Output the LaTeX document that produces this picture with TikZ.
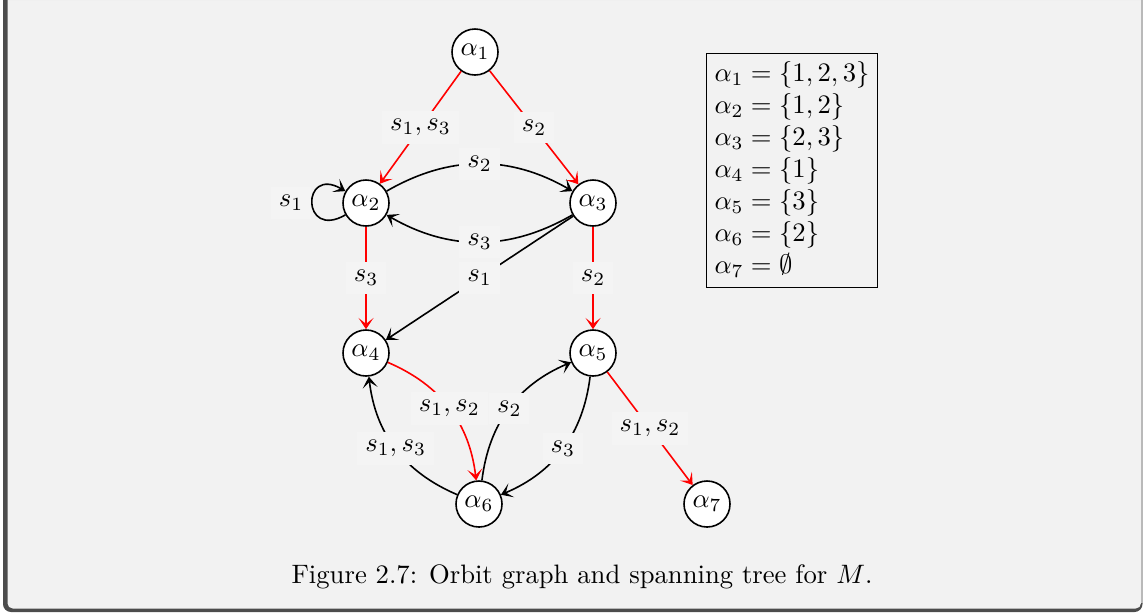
\documentclass[tikz,border=0pt]{standalone}
\usetikzlibrary{arrows.meta}
\definecolor{bgc}{gray}{0.949}
\definecolor{lblc}{gray}{0.957}
\definecolor{framec}{gray}{0.30}
\begin{document}
\begin{tikzpicture}[x=0.375pt,y=-0.375pt,
  state/.style={circle,draw,fill=white,semithick,minimum size=17.25pt,inner sep=0pt},
  edgelbl/.style={fill=lblc,text=black,inner sep=3pt},
  arr/.style={semithick,-{Stealth[length=4.2pt,width=5.6pt,inset=2.2pt]}},
  tree/.style={arr,red}]
\useasboundingbox (0,0) rectangle (1143,613);
% frame
\begin{scope}
\clip (0,0) rectangle (1143,613);
\fill[framec,rounded corners=3pt] (3,-60) rectangle (1142.5,612);
\fill[bgc,rounded corners=2pt] (7.5,-60) rectangle (1141,608.5);
\fill[gray!55] (1141,-5) rectangle (1142.5,603);
\fill[gray!12] (7.5,0) rectangle (1141,1);
\end{scope}
% states
\node[state] (a1) at (475,52) {$\alpha_1$};
\node[state] (a2) at (366,203) {$\alpha_2$};
\node[state] (a3) at (593,203) {$\alpha_3$};
\node[state] (a4) at (366,353) {$\alpha_4$};
\node[state] (a5) at (593,353) {$\alpha_5$};
\node[state] (a6) at (479,504) {$\alpha_6$};
\node[state] (a7) at (707,504) {$\alpha_7$};
% edges
\draw[tree] (a1) -- node[edgelbl] {$s_1,s_3$} (a2);
\draw[tree] (a1) -- node[edgelbl] {$s_2$} (a3);
\draw[arr] (a2) to[bend left=30] node[edgelbl] {$s_2$} (a3);
\draw[arr] (a3) to[bend left=30] node[edgelbl] {$s_3$} (a2);
\draw[arr] (a2) to[out=210,in=150,looseness=5.5] node[edgelbl,left] {$s_1$} (a2);
\draw[arr] (a3) -- node[edgelbl] {$s_1$} (a4);
\draw[tree] (a2) -- node[edgelbl] {$s_3$} (a4);
\draw[tree] (a3) -- node[edgelbl] {$s_2$} (a5);
\draw[tree] (a4) to[bend left=30] node[edgelbl] {$s_1,s_2$} (a6);
\draw[arr] (a6) to[bend left=30] node[edgelbl] {$s_1,s_3$} (a4);
\draw[arr] (a6) to[bend left=30] node[edgelbl] {$s_2$} (a5);
\draw[arr] (a5) to[bend left=30] node[edgelbl] {$s_3$} (a6);
\draw[tree] (a5) -- node[edgelbl] {$s_1,s_2$} (a7);
% legend
\node[draw,fill=bgc,anchor=north west,inner xsep=3pt,inner ysep=1.9pt,line width=0.4pt] (leg) at (706,53)
  {\begin{tabular}{@{}l@{}}
  $\alpha_1=\{1,2,3\}$\\
  $\alpha_2=\{1,2\}$\\
  $\alpha_3=\{2,3\}$\\
  $\alpha_4=\{1\}$\\
  $\alpha_5=\{3\}$\\
  $\alpha_6=\{2\}$\\
  $\alpha_7=\emptyset$
  \end{tabular}};
% caption
\node[anchor=base] (cap) at (582,583) {Figure 2.7: Orbit graph and spanning tree for $M$.};
\end{tikzpicture}
\end{document}
